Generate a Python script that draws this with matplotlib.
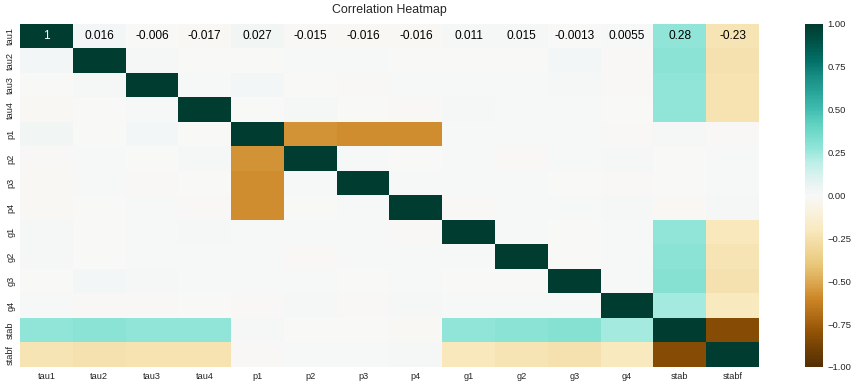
import numpy as np
import pandas as pd
import matplotlib
matplotlib.use("Agg")
import matplotlib.pyplot as plt
from matplotlib.colors import ListedColormap, rgb_to_hsv, hsv_to_rgb
import seaborn as sns

# variables of the grid stability dataset
variaveis = ["tau1", "tau2", "tau3", "tau4", "p1", "p2", "p3", "p4",
             "g1", "g2", "g3", "g4", "stab", "stabf"]

# correlation matrix rows
tau1 = [1, 0.016, -0.006, -0.017, 0.027, -0.015, -0.016, -0.016, 0.011, 0.015, -0.0013, 0.0055, 0.28, -0.23]
tau2 = [0.016, 1, 0.013, -0.005, -0.006, 0.007, 0.003, -0.002, -0.001, -0.004, 0.018, -0.012, 0.29, -0.25]
tau3 = [-0.006, 0.013, 1, 0.003, 0.017, -0.004, -0.010, 0.006, 0.003, 0.007, 0.012, -0.013, 0.28, -0.24]
tau4 = [-0.017, -0.005, 0.003, 1, -0.003, 0.009, -0.007, -0.012, 0.008, 0.004, 0.002, -0.004, 0.28, -0.24]
p1 = [0.027, -0.006, 0.017, -0.003, 1, -0.57, -0.58, -0.58, 0.001, 0.004, 0.003, -0.012, 0.010, -0.009]
p2 = [-0.015, 0.007, -0.004, 0.009, -0.57, 1, 0.002, -0.003, 0.004, -0.010, 0.003, 0.012, -0.006, 0.006]
p3 = [-0.016, 0.003, -0.010, -0.007, -0.58, 0.002, 1, 0.007, 0.001, 0.005, -0.002, -0.010, -0.003, 0.000]
p4 = [-0.016, -0.002, 0.006, -0.012, -0.58, -0.003, 0.007, 1, -0.008, 0.001, 0.002, 0.015, -0.020, 0.012]
g1 = [0.011, -0.001, 0.003, 0.008, 0.001, 0.004, 0.001, -0.008, 1, 0.007, -0.004, 0.002, 0.28, -0.21]
g2 = [0.015, -0.004, 0.007, 0.004, 0.004, -0.010, 0.005, 0.001, 0.007, 1, -0.003, 0.001, 0.29, -0.23]
g3 = [-0.0013, 0.018, 0.012, 0.002, 0.003, 0.003, -0.002, 0.002, -0.004, -0.003, 1, 0.001, 0.31, -0.25]
g4 = [0.0055, -0.012, -0.013, -0.004, -0.012, 0.012, -0.010, 0.015, 0.002, 0.001, 0.001, 1, 0.24, -0.20]
stab = [0.28, 0.29, 0.28, 0.28, 0.010, -0.006, -0.003, -0.020, 0.28, 0.29, 0.31, 0.24, 1, -0.83]
stabf = [-0.23, -0.25, -0.24, -0.24, -0.009, 0.006, 0.000, 0.012, -0.21, -0.23, -0.25, -0.20, -0.83, 1]

rotulos_primeira_linha = ["1", "0.016", "-0.006", "-0.017", "0.027", "-0.015", "-0.016",
                          "-0.016", "0.011", "0.015", "-0.0013", "0.0055", "0.28", "-0.23"]

corr = pd.DataFrame([tau1, tau2, tau3, tau4, p1, p2, p3, p4, g1, g2, g3, g4, stab, stabf],
                    index=variaveis, columns=variaveis)

# BrBG, a bit more saturated like the reference
pos = np.linspace(0, 1, 256)
base = plt.get_cmap("BrBG")(pos)[:, :3]
hsv = rgb_to_hsv(base)
s = hsv[:, 1]
v = hsv[:, 2]
s_verde = np.interp(s, [0, 0.04, 0.1, 0.225, 0.5, 0.76, 1], [0, 0.04, 0.13, 0.36, 0.66, 0.82, 1])
s_marrom = np.interp(s, [0, 0.1, 0.24, 0.76, 0.91, 1], [0, 0.11, 0.27, 0.80, 0.95, 1])
hsv[:, 1] = np.where(pos > 0.5, s_verde, s_marrom)
v_verde = v + 0.22 * v * (1 - v) * np.clip((v - 0.3) / 0.2, 0, 1)
v_marrom = v + 0.35 * v * (1 - v) * np.clip((v - 0.45) / 0.35, 0, 1)
hsv[:, 2] = np.clip(np.where(pos > 0.5, v_verde, v_marrom), 0, 1)
cmap = ListedColormap(hsv_to_rgb(hsv))

sns.set_style("white")
plt.rcParams['font.family'] = ['Liberation Sans', 'DejaVu Sans']
plt.rcParams['text.color'] = '.15'
plt.rcParams['xtick.color'] = '.15'
plt.rcParams['ytick.color'] = '.15'

fig = plt.figure(figsize=(8.58, 3.87), dpi=100)
ax = fig.add_axes([0.0233, 0.0517, 0.8613, 0.8863])
cax = fig.add_axes([0.938, 0.0517, 0.021, 0.8863])

sns.heatmap(corr, cmap=cmap, vmin=-1, vmax=1, ax=ax, cbar_ax=cax)

# only the first row carries annotations
for j, txt in enumerate(rotulos_primeira_linha):
    cor = "white" if corr.iloc[0, j] > 0.6 else "black"
    ax.text(j + 0.5, 0.5, txt, ha="center", va="center", fontsize=8.6, color=cor)

ax.set_title("Correlation Heatmap", fontsize=8.9, pad=8)
ax.tick_params(axis="both", length=0, labelsize=6.6)
ax.set_yticklabels(variaveis, rotation=90, va="center")
ax.set_xticklabels(variaveis, rotation=0)

cax.tick_params(length=0, labelsize=6.8)
cax.set_yticks([-1, -0.75, -0.5, -0.25, 0, 0.25, 0.5, 0.75, 1])
cax.set_yticklabels(["\u22121.00", "\u22120.75", "\u22120.50", "\u22120.25", "0.00",
                     "0.25", "0.50", "0.75", "1.00"])
for sp in cax.spines.values():
    sp.set_visible(False)

fig.savefig("out.png", dpi=100)
